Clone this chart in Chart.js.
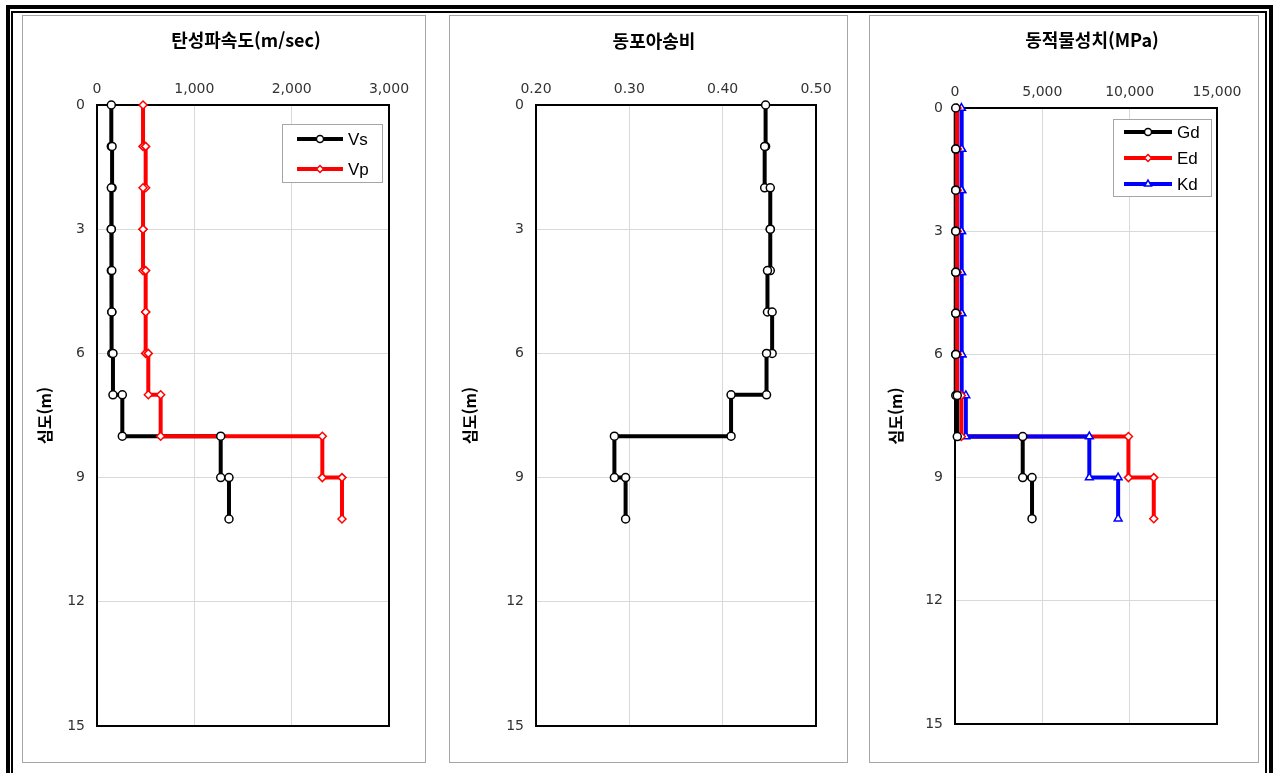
<!DOCTYPE html>
<html lang="ko">
<head>
<meta charset="utf-8">
<title>탄성파속도 / 동포아송비 / 동적물성치</title>
<script src="https://cdn.jsdelivr.net/npm/chart.js@4.4.1/dist/chart.umd.min.js"></script>
<style>
  html, body { margin: 0; padding: 0; background: #fff; }
  body { width: 1275px; height: 773px; position: relative; overflow: hidden; }
  .frame-outer { position: absolute; left: 6px; top: 5px; width: 1267px; height: 820px; border: 4px solid #000; box-sizing: border-box; }
  .frame-inner { position: absolute; left: 11px; top: 11px; width: 1256px; height: 820px; border: 2px solid #000; box-sizing: border-box; }
  .panel { position: absolute; top: 15px; height: 748px; border: 1px solid #a6a6a6; box-sizing: border-box; background: #fff; }
  canvas.chart { position: absolute; top: 15px; }
</style>
</head>
<body>
<div class="frame-outer"></div>
<div class="frame-inner"></div>

<div class="panel" style="left:22px;width:404px"></div>
<div class="panel" style="left:449px;width:399px"></div>
<div class="panel" style="left:869px;width:390px"></div>

<canvas id="velocityChart" class="chart" width="404" height="748" style="left:22px"></canvas>
<canvas id="poissonChart" class="chart" width="399" height="748" style="left:449px"></canvas>
<canvas id="modulusChart" class="chart" width="390" height="748" style="left:869px"></canvas>

<script>
/* ---- layer data (depth in m, each layer drawn as a step) ---- */
const depthTop    = [0, 1, 2, 3, 4, 5, 6, 7, 8, 9];
const depthBottom = [1, 2, 3, 4, 5, 6, 7, 8, 9, 10];

const vsValues = [147, 155, 147, 147, 152, 152, 164, 260, 1271, 1356];     // m/sec
const vpValues = [473, 500, 473, 473, 500, 500, 527, 654, 2315, 2517];     // m/sec
const poissonValues = [0.446, 0.445, 0.451, 0.451, 0.448, 0.453, 0.447, 0.409, 0.284, 0.296];
const gdValues = [40, 42, 40, 40, 42, 42, 45, 130, 3877, 4410];            // MPa
const edValues = [116, 122, 116, 116, 122, 122, 130, 365, 9930, 11380];    // MPa
const kdValues = [370, 390, 370, 370, 380, 390, 400, 620, 7690, 9340];     // MPa

const depthAxis = { min: 0, max: 15, step: 3 };
const velocityAxis = { min: 0, max: 3000, step: 1000 };
const poissonAxis = { min: 0.2, max: 0.5, step: 0.1 };
const modulusAxis = { min: 0, max: 15000, step: 5000 };

const TICK_FONT = { family: "'DejaVu Sans', sans-serif", size: 14 };
const KO_FONT = "'Noto Sans CJK KR', sans-serif";
const GRID = '#d9d9d9';

/* ---- turn layer values into step points ---- */
function steps(values) {
  const pts = [];
  values.forEach((v, i) => {
    pts.push({ x: v, y: depthTop[i] }, { x: v, y: depthBottom[i] });
  });
  return pts;
}

/* ---- plugins: title, plot frame, boxed legend ---- */
function titlePlugin(text, x, y) {
  return {
    id: 'panelTitle',
    afterDraw(chart) {
      const { ctx } = chart;
      ctx.save();
      ctx.font = `bold 18px ${KO_FONT}`;
      ctx.fillStyle = '#000';
      ctx.textAlign = 'center';
      ctx.textBaseline = 'middle';
      ctx.fillText(text, x, y);
      ctx.restore();
    },
  };
}

const framePlugin = {
  id: 'plotFrame',
  beforeDatasetsDraw(chart) {
    const { ctx, chartArea: a } = chart;
    ctx.save();
    ctx.strokeStyle = '#000';
    ctx.lineWidth = 2;
    ctx.strokeRect(a.left, a.top, a.right - a.left, a.bottom - a.top);
    ctx.restore();
  },
};

function legendPlugin(box, items) {
  return {
    id: 'boxLegend',
    afterDraw(chart) {
      const { ctx, chartArea: a } = chart;
      ctx.save();
      ctx.fillStyle = '#fff';
      ctx.fillRect(a.left + box.left, a.top + box.top, box.width, box.height);
      ctx.strokeStyle = '#a6a6a6';
      ctx.lineWidth = 1;
      ctx.strokeRect(a.left + box.left + 0.5, a.top + box.top + 0.5, box.width, box.height);
      items.forEach((it, i) => {
        const y = a.top + box.rows[i];
        const x0 = a.left + box.lineX0, x1 = a.left + box.lineX1;
        ctx.strokeStyle = it.color;
        ctx.lineWidth = 4;
        ctx.beginPath();
        ctx.moveTo(x0, y);
        ctx.lineTo(x1, y);
        ctx.stroke();
        ctx.fillStyle = '#fff';
        ctx.lineWidth = 1.5;
        Chart.helpers.drawPoint(ctx, { pointStyle: it.pointStyle, radius: it.radius - 0.5, rotation: 0, borderWidth: 1.5 }, (x0 + x1) / 2, y);
        ctx.fillStyle = '#000';
        ctx.font = "17px 'Liberation Sans', Arial, sans-serif";
        ctx.textAlign = 'left';
        ctx.textBaseline = 'middle';
        ctx.fillText(it.label, a.left + box.textX, y + 1);
      });
      ctx.restore();
    },
  };
}

/* ---- shared chart builder ---- */
function buildChart(canvasId, cfg) {
  const datasets = [];
  // markers first (drawn on top), then lines from top-most to bottom-most
  cfg.series.forEach((s) => {
    datasets.push({
      label: s.label, data: steps(s.values), showLine: false, clip: false,
      pointStyle: s.pointStyle, pointRadius: s.radius, pointBackgroundColor: '#fff',
      pointBorderColor: s.color, pointBorderWidth: 1.5, order: 0,
    });
  });
  cfg.series.forEach((s, i) => {
    datasets.push({
      label: s.label + ' line', data: steps(s.values), showLine: true, clip: false,
      borderColor: s.color, borderWidth: 4, pointRadius: 0, order: 1 + (cfg.series.length - i),
    });
  });

  return new Chart(document.getElementById(canvasId), {
    type: 'scatter',
    data: { datasets },
    options: {
      responsive: false,
      animation: false,
      events: [],
      layout: { padding: { left: 0, top: 0, right: cfg.padRight, bottom: cfg.padBottom } },
      plugins: { legend: { display: false }, tooltip: { enabled: false } },
      scales: {
        x: {
          type: 'linear', position: 'top',
          min: cfg.xAxis.min, max: cfg.xAxis.max,
          ticks: { stepSize: cfg.xAxis.step, padding: 7, color: '#333', font: TICK_FONT, callback: cfg.xFormat },
          grid: { color: GRID, drawTicks: false },
          border: { display: false },
          afterFit: (s) => { s.height = cfg.axisTop; },
        },
        y: {
          type: 'linear', reverse: true,
          min: depthAxis.min, max: depthAxis.max,
          ticks: { stepSize: depthAxis.step, padding: 12, color: '#333', font: TICK_FONT },
          grid: { color: GRID, drawTicks: false },
          border: { display: false },
          title: {
            display: true, text: '심도(m)', color: '#000',
            font: { family: KO_FONT, size: 16, weight: 'bold', lineHeight: 1.2 },
            padding: { top: cfg.yTitlePad, bottom: 0 },
          },
          afterFit: (s) => { s.width = cfg.axisLeft; },
        },
      },
    },
    plugins: [framePlugin, titlePlugin(cfg.title, cfg.titleX, cfg.titleY)].concat(cfg.legend ? [cfg.legend] : []),
  });
}

const thousands = (v) => Number(v).toLocaleString('en-US');

/* ---- 1. 탄성파속도 ---- */
buildChart('velocityChart', {
  title: '탄성파속도(m/sec)', titleX: 224, titleY: 25,
  xAxis: velocityAxis, xFormat: thousands,
  axisLeft: 75, axisTop: 90, padRight: 37, padBottom: 37, yTitlePad: 13,
  series: [
    { label: 'Vs', values: vsValues, color: '#000000', pointStyle: 'circle', radius: 4 },
    { label: 'Vp', values: vpValues, color: '#ff0000', pointStyle: 'rectRot', radius: 4 },
  ],
  legend: legendPlugin(
    { left: 185, top: 19, width: 100, height: 58, rows: [34, 64], lineX0: 200, lineX1: 246, textX: 251 },
    [
      { label: 'Vs', color: '#000000', pointStyle: 'circle', radius: 4 },
      { label: 'Vp', color: '#ff0000', pointStyle: 'rectRot', radius: 4 },
    ]
  ),
});

/* ---- 2. 동포아송비 ---- */
buildChart('poissonChart', {
  title: '동포아송비', titleX: 205, titleY: 26,
  xAxis: poissonAxis, xFormat: (v) => Number(v).toFixed(2),
  axisLeft: 87, axisTop: 90, padRight: 32, padBottom: 37, yTitlePad: 11,
  series: [
    { label: 'ν', values: poissonValues, color: '#000000', pointStyle: 'circle', radius: 4 },
  ],
});

/* ---- 3. 동적물성치 ---- */
buildChart('modulusChart', {
  title: '동적물성치(MPa)', titleX: 223, titleY: 25,
  xAxis: modulusAxis, xFormat: thousands,
  axisLeft: 86, axisTop: 93, padRight: 42, padBottom: 39, yTitlePad: 17,
  series: [
    { label: 'Gd', values: gdValues, color: '#000000', pointStyle: 'circle', radius: 4 },
    { label: 'Ed', values: edValues, color: '#ff0000', pointStyle: 'rectRot', radius: 4 },
    { label: 'Kd', values: kdValues, color: '#0000ff', pointStyle: 'triangle', radius: 4.5 },
  ],
  legend: legendPlugin(
    { left: 158, top: 11, width: 98, height: 77, rows: [24, 50, 76], lineX0: 169, lineX1: 217, textX: 222 },
    [
      { label: 'Gd', color: '#000000', pointStyle: 'circle', radius: 4 },
      { label: 'Ed', color: '#ff0000', pointStyle: 'rectRot', radius: 4 },
      { label: 'Kd', color: '#0000ff', pointStyle: 'triangle', radius: 4.5 },
    ]
  ),
});
</script>
</body>
</html>
